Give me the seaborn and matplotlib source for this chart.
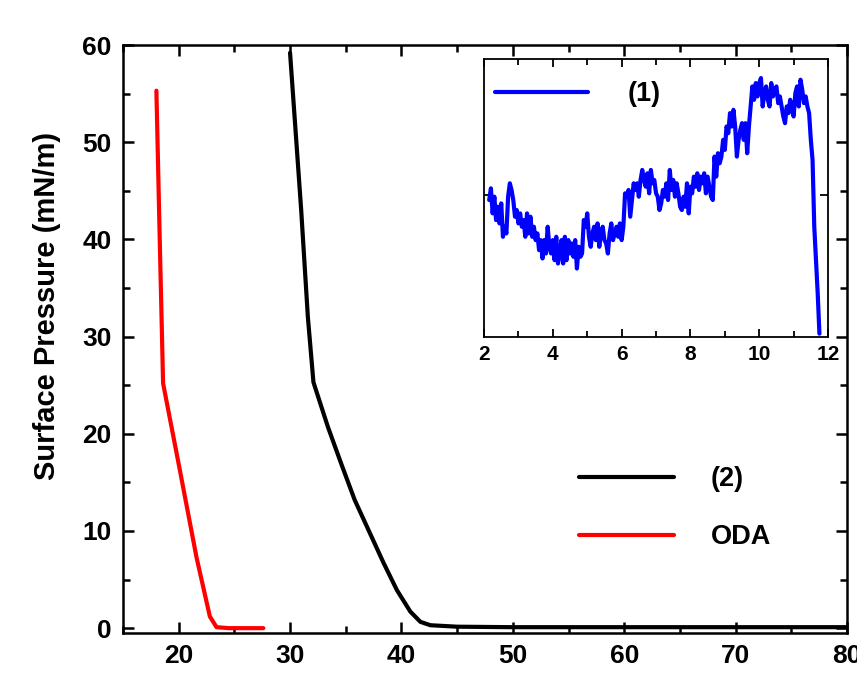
import numpy as np
import pandas as pd
import matplotlib
matplotlib.use("Agg")
import matplotlib.pyplot as plt
import seaborn as sns
from matplotlib.ticker import MultipleLocator

sns.set_theme(style="ticks")
plt.rcParams['font.family'] = ['Liberation Sans', 'DejaVu Sans']
plt.rcParams['font.weight'] = 'bold'
plt.rcParams['axes.labelweight'] = 'bold'
for key in ['text.color', 'axes.labelcolor', 'xtick.color', 'ytick.color']:
    plt.rcParams[key] = 'black'

# isotherm of sample (2)
area_2 = [30.0, 31.0, 31.6, 32.1, 33.4, 34.6, 35.8, 37.2, 38.4, 39.6, 40.8, 41.7,
          42.6, 45.0, 50.0, 60.0, 70.0, 80.0]
press_2 = [59.2, 43.0, 32.0, 25.3, 20.7, 16.9, 13.2, 9.7, 6.7, 3.9, 1.7, 0.65,
           0.3, 0.15, 0.1, 0.1, 0.1, 0.1]

# ODA isotherm
area_oda = [18.0, 18.3, 18.6, 20.1, 21.6, 22.8, 23.4, 24.5, 26.0, 27.6]
press_oda = [55.3, 40.0, 25.2, 16.3, 7.3, 1.2, 0.1, 0.0, 0.0, 0.0]

# inset: sample (1)
area_1 = [
    2.15, 2.20, 2.25, 2.30, 2.35, 2.40, 2.45, 2.50, 2.55, 2.60,
    2.65, 2.70, 2.75, 2.80, 2.85, 2.90, 2.95, 3.00, 3.05, 3.10,
    3.15, 3.20, 3.25, 3.30, 3.35, 3.40, 3.45, 3.50, 3.55, 3.60,
    3.65, 3.70, 3.75, 3.80, 3.85, 3.90, 3.95, 4.00, 4.05, 4.10,
    4.15, 4.20, 4.25, 4.30, 4.35, 4.40, 4.45, 4.50, 4.55, 4.60,
    4.65, 4.70, 4.75, 4.80, 4.85, 4.90, 4.95, 5.00, 5.05, 5.10,
    5.15, 5.20, 5.25, 5.30, 5.35, 5.40, 5.45, 5.50, 5.55, 5.60,
    5.65, 5.70, 5.75, 5.80, 5.85, 5.90, 5.95, 6.00, 6.05, 6.10,
    6.15, 6.20, 6.25, 6.30, 6.35, 6.40, 6.45, 6.50, 6.55, 6.60,
    6.65, 6.70, 6.75, 6.80, 6.85, 6.90, 6.95, 7.00, 7.05, 7.10,
    7.15, 7.20, 7.25, 7.30, 7.35, 7.40, 7.45, 7.50, 7.55, 7.60,
    7.65, 7.70, 7.75, 7.80, 7.85, 7.90, 7.95, 8.00, 8.05, 8.10,
    8.15, 8.20, 8.25, 8.30, 8.35, 8.40, 8.45, 8.50, 8.55, 8.60,
    8.65, 8.70, 8.75, 8.80, 8.85, 8.90, 8.95, 9.00, 9.05, 9.10,
    9.15, 9.20, 9.25, 9.30, 9.35, 9.40, 9.45, 9.50, 9.55, 9.60,
    9.65, 9.70, 9.75, 9.80, 9.85, 9.90, 9.95, 10.00, 10.05, 10.10,
    10.15, 10.20, 10.25, 10.30, 10.35, 10.40, 10.45, 10.50, 10.55, 10.60,
    10.65, 10.70, 10.75, 10.80, 10.85, 10.90, 10.95, 11.00, 11.05, 11.10,
    11.15, 11.20, 11.25, 11.30, 11.35, 11.40, 11.45, 11.50, 11.55, 11.60,
    11.65, 11.70, 11.75,
]
press_1 = [
    41, 44.5, 37, 42, 35, 39, 34, 40, 30, 33, 31, 42, 46, 44, 41,
    36, 38, 34, 37, 33, 35, 30, 37, 31, 36, 30, 33, 29, 31, 26,
    29, 23.5, 29, 25, 33, 27, 25, 29, 23, 30, 22, 25, 29, 22,
    30, 23, 29, 25, 28, 24, 29, 20.5, 27, 24, 25, 35, 33, 37, 30,
    27, 31, 33, 29, 34, 27, 31, 33, 29, 28, 25, 31, 34, 29,
    31, 33, 30, 34, 29, 33, 43, 42, 44, 36, 41, 46, 44, 46, 42,
    47, 50, 47, 45, 49, 43, 50, 46, 47, 43, 42, 38, 40, 44,
    42, 46, 41, 50, 44, 47, 42, 46, 43, 39, 38, 42, 39, 46, 37,
    45, 43, 48, 45, 49, 44, 48, 46, 49, 43, 48, 45, 42, 41,
    54, 48, 55, 52, 54, 59, 56, 63, 61, 67, 63, 68, 63, 54, 59,
    62, 64, 59, 64, 55, 63, 69, 75, 71, 76, 72, 76, 77.5, 69,
    73, 75, 71, 69, 76, 72, 74, 75, 70, 72, 69, 66, 64, 69, 67,
    71, 68, 66, 73, 75, 69, 77, 74, 70, 72, 69, 67, 59, 53,
    33, 23, 13, 1,
]

fig = plt.figure(figsize=(8.57, 6.8), dpi=100)
ax = fig.add_axes([0.1435, 0.0691, 0.8448, 0.8647])

sns.lineplot(x=area_2, y=press_2, color="black", lw=3, label="(2)", ax=ax)
sns.lineplot(x=area_oda, y=press_oda, color="#ff0000", lw=3, label="ODA", ax=ax)

ax.set_xlim(15, 80)
ax.set_ylim(-0.5, 60)
ax.xaxis.set_major_locator(MultipleLocator(10))
ax.xaxis.set_minor_locator(MultipleLocator(5))
ax.yaxis.set_major_locator(MultipleLocator(10))
ax.yaxis.set_minor_locator(MultipleLocator(5))
ax.tick_params(which="both", direction="in", top=True, right=True, width=1.8,
               labelsize=19, pad=8)
ax.tick_params(which="major", length=8)
ax.tick_params(which="minor", length=5)
for s in ax.spines.values():
    s.set_linewidth(1.8)
    s.set_color("black")
ax.set_ylabel("Surface Pressure (mN/m)", fontsize=21)
ax.yaxis.set_label_coords(-0.086, 0.556)
ax.legend(loc="upper left", bbox_to_anchor=(0.630, 0.284), frameon=False,
          fontsize=19.5, handlelength=3.5, handletextpad=1.35, labelspacing=1.18,
          borderaxespad=0, borderpad=0)

# inset
ins = fig.add_axes([0.5648, 0.5044, 0.4014, 0.4088])
sns.lineplot(x=area_1, y=press_1, color="#0000ff", lw=3, label="(1)", ax=ins)
ins.set_xlim(2, 12)
ins.set_ylim(0, 83.2)
ins.xaxis.set_major_locator(MultipleLocator(2))
ins.xaxis.set_minor_locator(MultipleLocator(1))
ins.set_yticks([42.5])
ins.set_yticklabels([])
ins.tick_params(which="both", direction="in", top=True, right=True, width=1.3,
                labelsize=15, pad=6)
ins.tick_params(which="major", length=6)
ins.tick_params(which="minor", length=4)
for s in ins.spines.values():
    s.set_linewidth(1.3)
    s.set_color("black")
ins.set_xlabel("")
ins.set_ylabel("")
ins.legend(loc="upper left", bbox_to_anchor=(0.032, 0.921), frameon=False,
           fontsize=19.5, handlelength=3.45, handletextpad=1.45,
           borderaxespad=0, borderpad=0)

fig.savefig("out.png", dpi=100)
